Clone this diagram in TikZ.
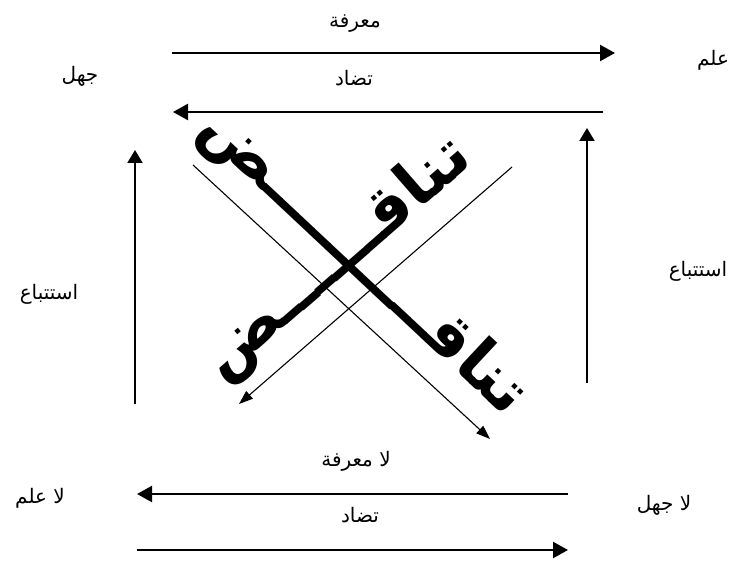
\documentclass[tikz,border=0pt]{standalone}
\usepackage{fontspec}
\usetikzlibrary{arrows.meta}
\TeXXeTstate=1
\newfontfamily\arabicfont[Script=Arabic]{DejaVu Sans}
\newcommand{\artext}[1]{\arabicfont\beginR #1\endR}

\begin{document}
\begin{tikzpicture}[x=1pt,y=-1pt,
        lbl/.style={font=\fontsize{20}{22}\selectfont, inner sep=1pt},
        bigword/.style={font=\bfseries\fontsize{64}{64}\selectfont, inner sep=0pt, anchor=base},
        harrow/.style={line width=2.3pt, -{Triangle[length=15pt,width=16pt]}},
        varrow/.style={line width=2pt, -{Triangle[length=13pt,width=15pt]}},
        darrow/.style={line width=1.1pt, -{Triangle[length=14pt,width=10pt]}}]
        \useasboundingbox (0,0) rectangle (735,561);

        % Corner terms
        \node[lbl] (ilm) at (713,60) {\artext{علم}};
        \node[lbl] (jahl) at (80,76) {\artext{جهل}};
        \node[lbl] (lailm) at (40,498) {\artext{لا علم}};
        \node[lbl] (lajahl) at (664,505) {\artext{لا جهل}};

        % Top arrows
        \coordinate (topA) at (172,53);
        \coordinate (topB) at (615,53);
        \coordinate (topC) at (603,112);
        \coordinate (topD) at (173,112);
        \draw[harrow] (topA) -- (topB);
        \draw[harrow] (topC) -- (topD);
        \node[lbl] (marifa) at (355,24) {\artext{معرفة}};
        \node[lbl] (tadad) at (354,78) {\artext{تضاد}};

        % Bottom arrows
        \coordinate (botA) at (568,494);
        \coordinate (botB) at (137,494);
        \coordinate (botC) at (137,550);
        \coordinate (botD) at (568,550);
        \draw[harrow] (botA) -- (botB);
        \draw[harrow] (botC) -- (botD);
        \node[lbl] (lamarifa) at (356,461) {\artext{لا معرفة}};
        \node[lbl] (tadadb) at (360,515) {\artext{تضاد}};

        % Side arrows
        \coordinate (leftA) at (135,404);
        \coordinate (leftB) at (135,150);
        \coordinate (rightA) at (587,383);
        \coordinate (rightB) at (587,128);
        \draw[varrow] (leftA) -- (leftB);
        \draw[varrow] (rightA) -- (rightB);
        \node[lbl] (istlft) at (49,294) {\artext{استتباع}};
        \node[lbl] (istrgt) at (698,271) {\artext{استتباع}};

        % Diagonals
        \coordinate (diagA) at (193,165);
        \coordinate (diagB) at (490,439);
        \coordinate (diagC) at (512,167);
        \coordinate (diagD) at (239,404);
        \draw[darrow] (diagA) -- (diagB);
        \draw[darrow] (diagC) -- (diagD);
        \node[bigword, rotate=-43] (tanaqA) at (352,274) {\artext{تناقــــــــــض}};
        \node[bigword, rotate=41] (tanaqB) at (348,272) {\artext{تناقــــــض}};
    \end{tikzpicture}
\end{document}
